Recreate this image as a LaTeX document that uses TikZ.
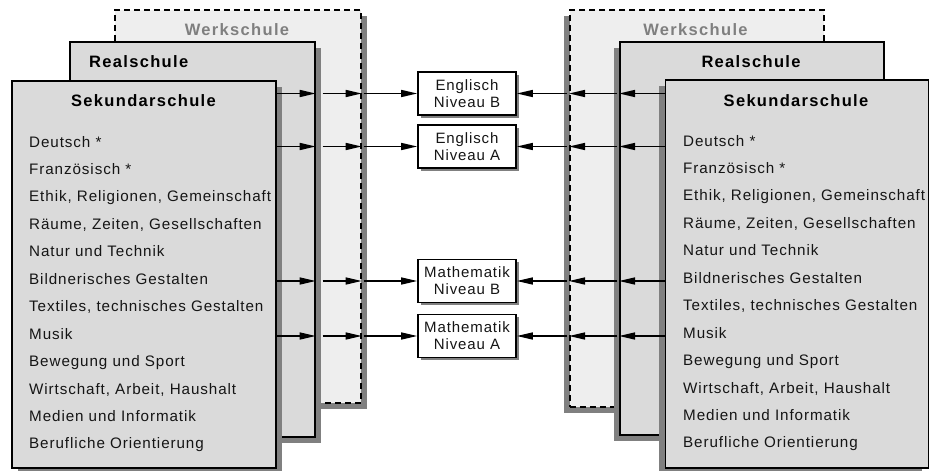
\documentclass[tikz,border=0pt]{standalone}
\usepackage{fontspec}
\setmainfont{Liberation Sans}
\newfontfamily\itemfont[LetterSpace=6]{Liberation Sans}
\newfontfamily\headfont[LetterSpace=8]{Liberation Sans}
\usetikzlibrary{shadows,arrows.meta,calc}
\definecolor{boxgray}{HTML}{DADADA}
\definecolor{werkgray}{HTML}{EEEEEE}
\definecolor{shadowgray}{HTML}{808080}
\definecolor{werktext}{HTML}{7F7F7F}
\definecolor{itemtext}{HTML}{151515}
\tikzset{
  bigbox/.style={rectangle, draw=black, line width=1.7pt, fill=boxgray, anchor=north west, inner sep=0pt},
  werkbox/.style={bigbox, fill=werkgray, dash pattern=on 6pt off 4pt},
  shL/.style={drop shadow={shadow xshift=6pt, shadow yshift=-6pt, fill=shadowgray, opacity=1}},
  shR/.style={drop shadow={shadow xshift=-6pt, shadow yshift=-6pt, fill=shadowgray, opacity=1}},
  headtext/.style={font=\headfont\bfseries\fontsize{16.5}{20}\selectfont, inner sep=0pt, anchor=base},
  itemtext/.style={font=\itemfont\fontsize{15.2}{18}\selectfont, text=itemtext, inner sep=0pt, anchor=base west},
  midbox/.style={rectangle, draw=black, line width=1.6pt, fill=white, minimum width=98pt, minimum height=43pt, inner sep=0pt, align=center,
    font=\itemfont\fontsize{15}{17}\selectfont, text=itemtext,
    drop shadow={shadow xshift=2.5pt, shadow yshift=-2.5pt, fill=shadowgray, opacity=1}},
  arr/.style={line width=1.5pt, -{Triangle[length=16pt,width=7pt]}}
}
\begin{document}
\begin{tikzpicture}[x=1pt,y=-1pt]
\useasboundingbox (0,0) rectangle (929,471);
% left stack
\node[werkbox, shL, minimum width=246pt, minimum height=393pt] (werkL) at (114,9) {};
\node[bigbox, shL, minimum width=245pt, minimum height=395pt] (realL) at (69,41) {};
\node[bigbox, shL, minimum width=264pt, minimum height=387pt] (sekL) at (11,80) {};
% right stack
\node[werkbox, shR, minimum width=254pt, minimum height=397pt] (werkR) at (569,9) {};
\node[bigbox, shR, minimum width=264pt, minimum height=393pt] (realR) at (619,41) {};
\node[bigbox, shR, minimum width=263pt, minimum height=388pt] (sekR) at (664.5,79) {};
% titles
\node[headtext, text=werktext] (twL) at (237,35) {Werkschule};
\node[headtext, anchor=base west] (trL) at (89,67) {Realschule};
\node[headtext] (tsL) at (143.5,106) {Sekundarschule};
\node[headtext, text=werktext] (twR) at (695.5,35) {Werkschule};
\node[headtext] (trR) at (751,67) {Realschule};
\node[headtext] (tsR) at (796,106) {Sekundarschule};
% items
\foreach \t [count=\i from 0] in {{Deutsch *},{Französisch *},{Ethik, Religionen, Gemeinschaft},{Räume, Zeiten, Gesellschaften},{Natur und Technik},{Bildnerisches Gestalten},{Textiles, technisches Gestalten},{Musik},{Bewegung und Sport},{Wirtschaft, Arbeit, Haushalt},{Medien und Informatik},{Berufliche Orientierung}}{
  \node[itemtext] (iL\i) at (29,{147+27.45*\i}) {\t};
  \node[itemtext] (iR\i) at (683,{146+27.45*\i}) {\t};
}
% middle boxes
\node[midbox] (eB) at (467,93.5) {Englisch\\Niveau B};
\node[midbox] (eA) at (467,146.5) {Englisch\\Niveau A};
\node[midbox] (mB) at (467,281) {Mathematik\\Niveau B};
\node[midbox] (mA) at (467,336) {Mathematik\\Niveau A};
% arrows
\foreach \r in {eB,eA,mB,mA}{
  \draw[arr] (sekL.east |- \r) -- (realL.east |- \r);
  \draw[arr] ($(realL.east |- \r)+(7,0)$) -- (werkL.east |- \r);
  \draw[arr] ($(werkL.east |- \r)+(2,0)$) -- (\r.west);
  \draw[arr] (sekR.west |- \r) -- (realR.west |- \r);
  \draw[arr] ($(realR.west |- \r)+(-2,0)$) -- (werkR.west |- \r);
  \draw[arr] ($(werkR.west |- \r)+(-2,0)$) -- (\r.east);
}
\end{tikzpicture}
\end{document}
